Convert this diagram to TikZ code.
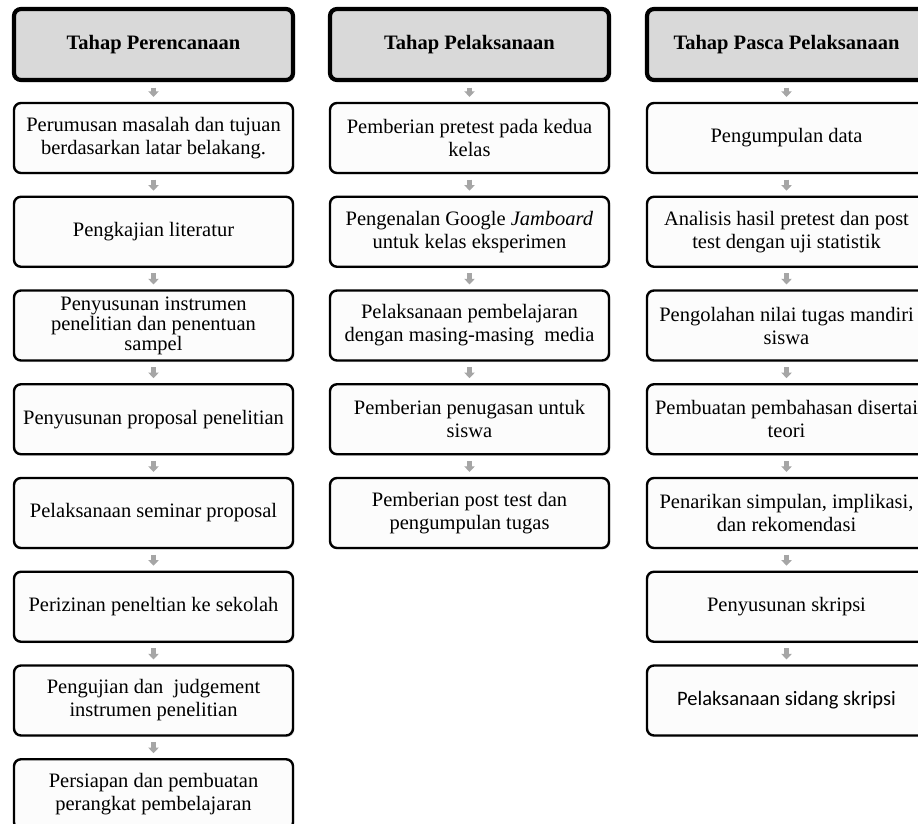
\documentclass[tikz,border=0pt]{standalone}
\usepackage{fontspec}
\setmainfont{Liberation Serif}
\newfontfamily\calfont{Carlito}
\usetikzlibrary{arrows.meta,shadows}
\definecolor{hdrfill}{HTML}{D9D9D9}
\definecolor{arrgray}{HTML}{A6A6A6}
\definecolor{boxfill}{HTML}{FCFCFC}
\tikzset{
  stepbox/.style={draw=black, line width=2.4pt, rounded corners=7pt, fill=boxfill,
    minimum width=279pt, minimum height=70pt, align=center, inner sep=2pt,
    font=\fontsize{20.5}{23}\selectfont,
    drop shadow={opacity=0.18, shadow xshift=1.5pt, shadow yshift=-1.5pt}},
  hdrbox/.style={stepbox, line width=4.2pt, fill=hdrfill, minimum height=71pt,
    font=\fontsize{20.5}{23}\selectfont\bfseries,
    drop shadow={opacity=0.3, shadow xshift=2pt, shadow yshift=-2pt}},
  flowarrow/.style={draw=arrgray, line width=5.5pt, -{Triangle[width=10.5pt,length=5.5pt]}}
}
\begin{document}
\begin{tikzpicture}[x=1pt,y=-1pt]
\useasboundingbox (0,0) rectangle (918,823);
\clip (0,0) rectangle (918,823);
% column 1
\node[hdrbox] (h1) at (153.5,44.5) {Tahap Perencanaan};
\node[stepbox] (a1) at (153.5,138) {Perumusan masalah dan tujuan\\berdasarkan latar belakang.};
\node[stepbox] (a2) at (153.5,231.75) {Pengkajian literatur};
\node[stepbox, font=\fontsize{20.5}{20}\selectfont] (a3) at (153.5,325.5) {Penyusunan instrumen\\penelitian dan penentuan\\sampel};
\node[stepbox] (a4) at (153.5,419.25) {Penyusunan proposal penelitian};
\node[stepbox] (a5) at (153.5,513) {Pelaksanaan seminar proposal};
\node[stepbox] (a6) at (153.5,606.75) {Perizinan peneltian ke sekolah};
\node[stepbox] (a7) at (153.5,700.5) {Pengujian dan\ \ judgement\\instrumen penelitian};
\node[stepbox] (a8) at (153.5,794.25) {Persiapan dan pembuatan\\perangkat pembelajaran};
% column 2
\node[hdrbox] (h2) at (469.5,44.5) {Tahap Pelaksanaan};
\node[stepbox] (b1) at (469.5,138) {Pemberian pretest pada kedua\\kelas};
\node[stepbox] (b2) at (469.5,231.75) {Pengenalan Google \textit{Jamboard}\\untuk kelas eksperimen};
\node[stepbox] (b3) at (469.5,325.5) {Pelaksanaan pembelajaran\\dengan masing-masing\ \ media};
\node[stepbox] (b4) at (469.5,419.25) {Pemberian penugasan untuk\\siswa};
\node[stepbox] (b5) at (469.5,513) {Pemberian post test dan\\pengumpulan tugas};
% column 3
\node[hdrbox] (h3) at (786.5,44.5) {Tahap Pasca Pelaksanaan};
\node[stepbox] (c1) at (786.5,138) {Pengumpulan data};
\node[stepbox] (c2) at (786.5,231.75) {Analisis hasil pretest dan post\\test dengan uji statistik};
\node[stepbox] (c3) at (786.5,325.5) {Pengolahan nilai tugas mandiri\\siswa};
\node[stepbox] (c4) at (786.5,419.25) {Pembuatan pembahasan disertai\\teori};
\node[stepbox] (c5) at (786.5,513) {Penarikan simpulan, implikasi,\\dan rekomendasi};
\node[stepbox] (c6) at (786.5,606.75) {Penyusunan skripsi};
\node[stepbox, font=\fontsize{20.5}{23}\calfont] (c7) at (786.5,700.5) {Pelaksanaan sidang skripsi};
% arrows
\foreach \u/\v in {h1/a1,a1/a2,a2/a3,a3/a4,a4/a5,a5/a6,a6/a7,a7/a8,
                   h2/b1,b1/b2,b2/b3,b3/b4,b4/b5,
                   h3/c1,c1/c2,c2/c3,c3/c4,c4/c5,c5/c6,c6/c7}
  \draw[flowarrow] ([yshift=-5.5pt]\u.south) -- ([yshift=5pt]\v.north);
\end{tikzpicture}
\end{document}
